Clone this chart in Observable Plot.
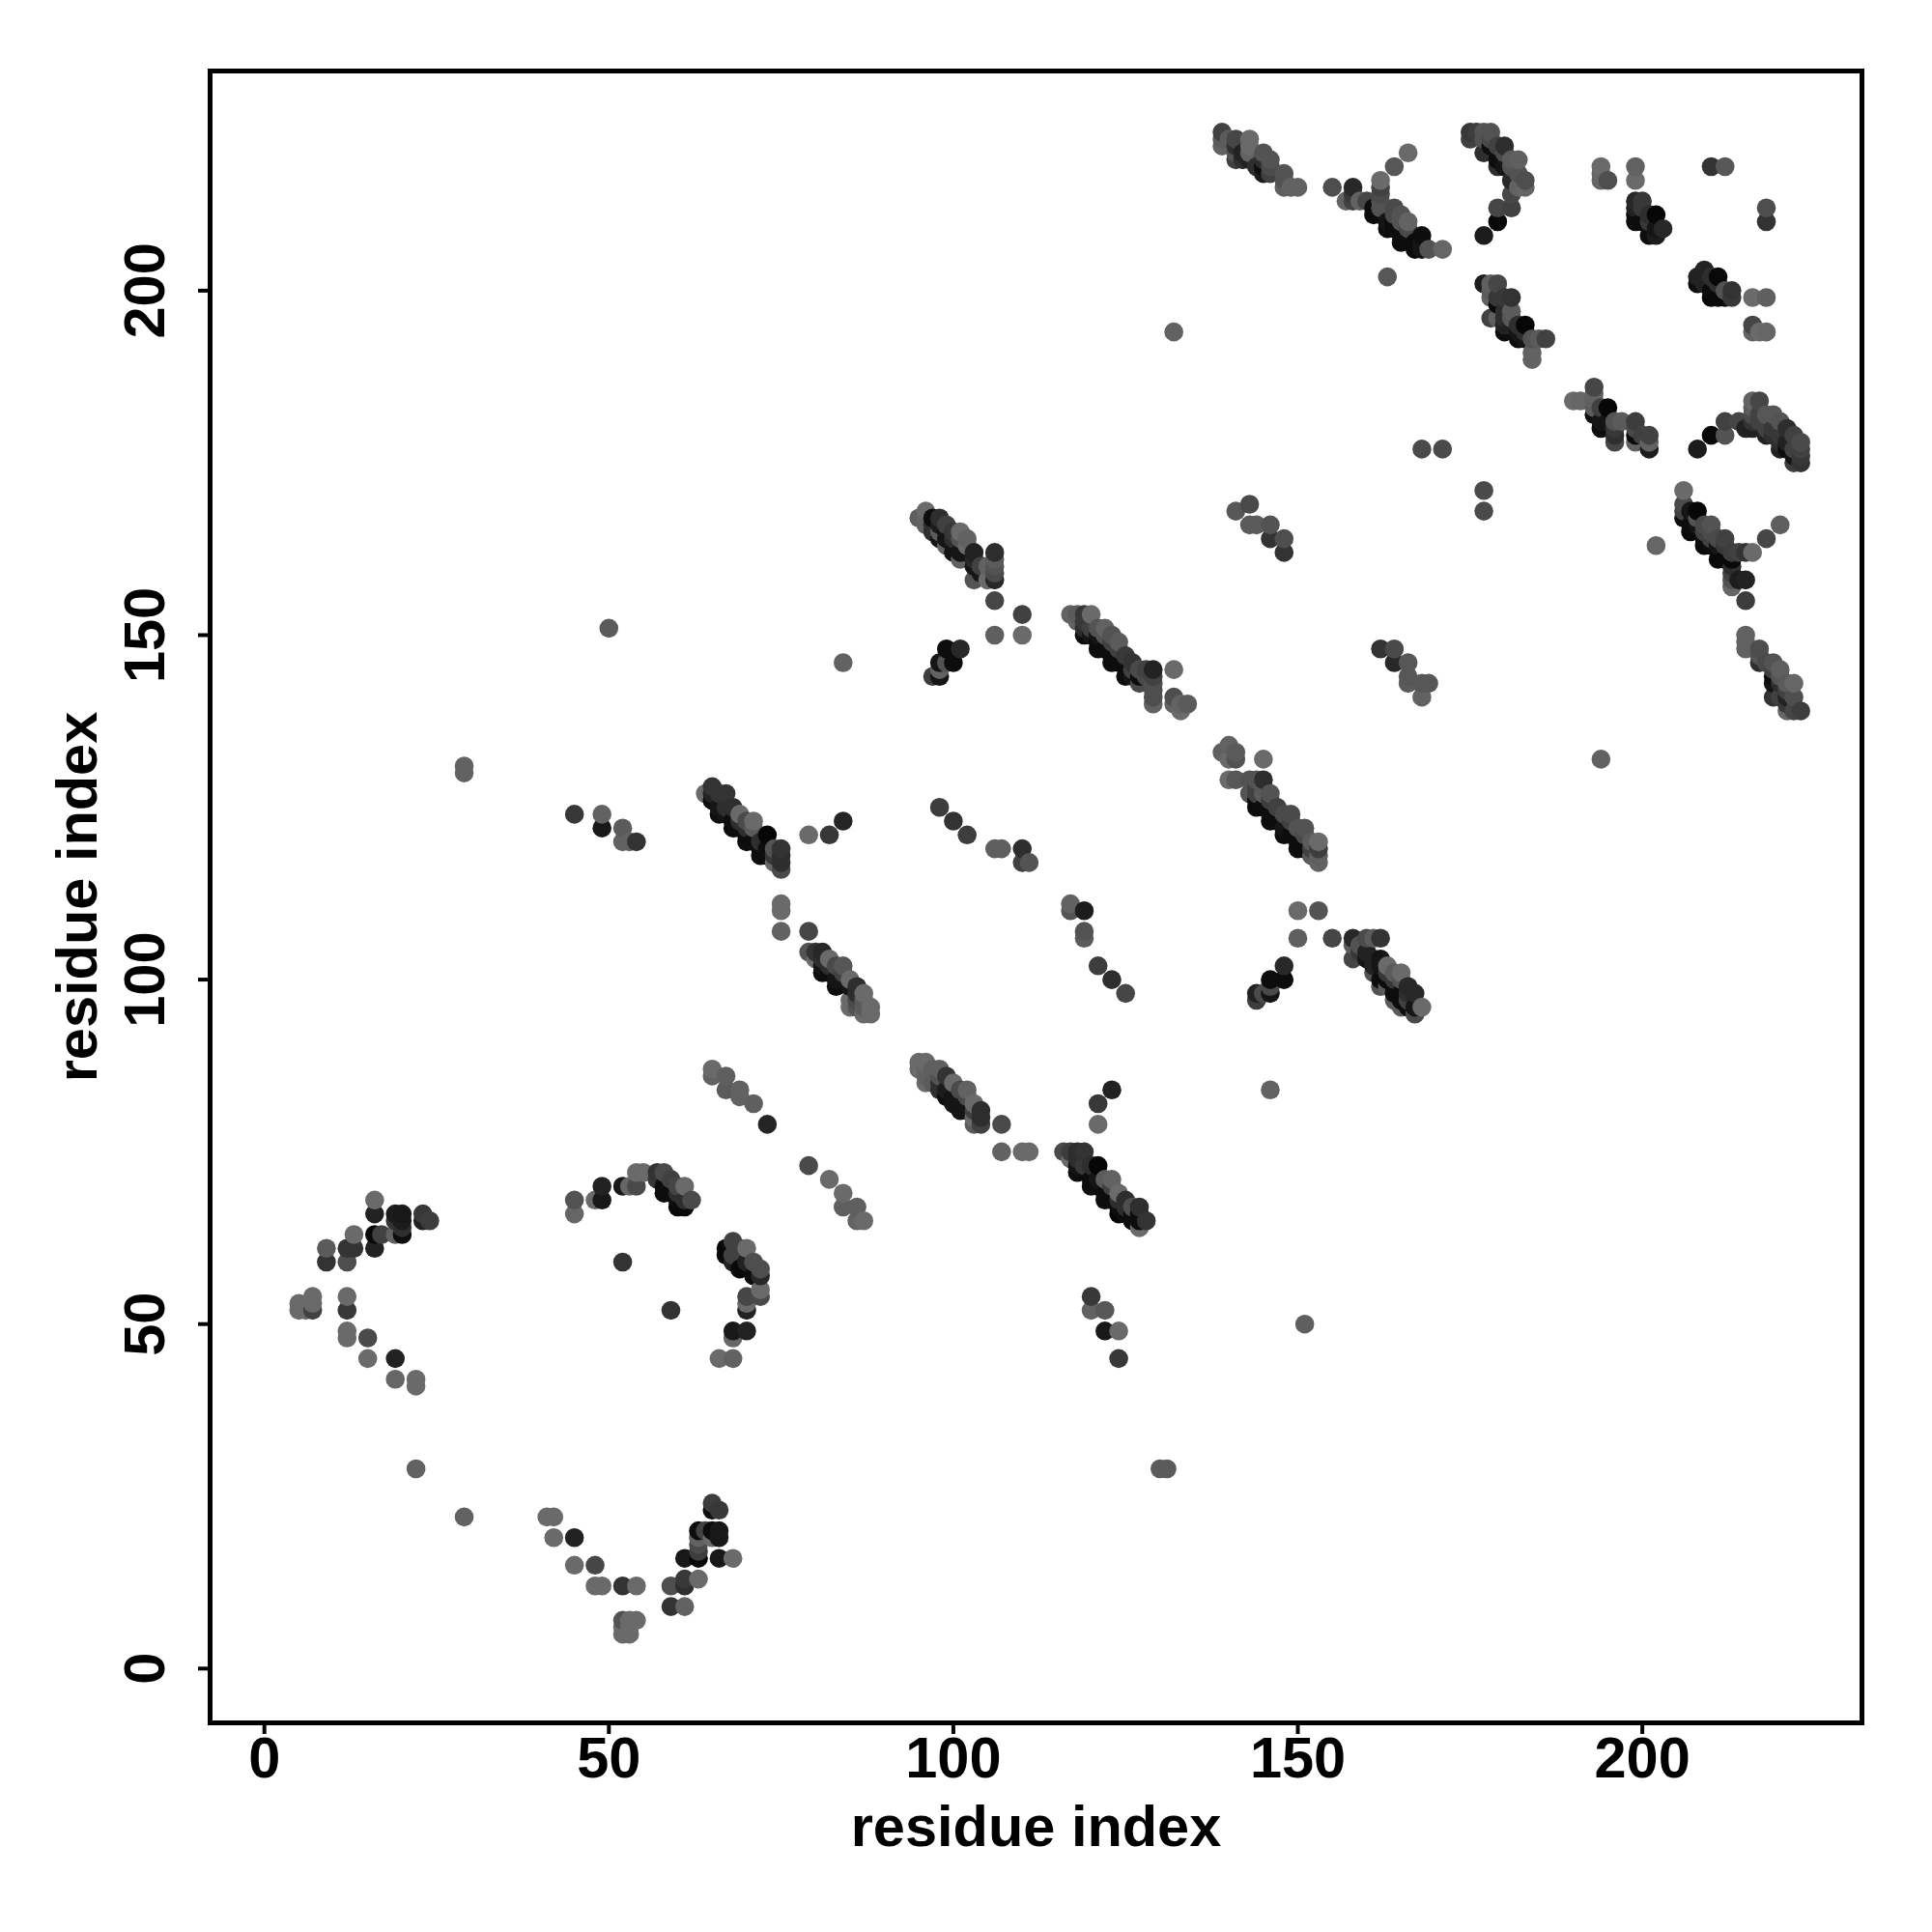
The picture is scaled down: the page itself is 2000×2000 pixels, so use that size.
<!DOCTYPE html>
<html><head><meta charset="utf-8">
<script src="https://cdn.jsdelivr.net/npm/d3@7"></script>
<script src="https://cdn.jsdelivr.net/npm/@observablehq/plot@0.6"></script>
<style>html,body{margin:0;padding:0;background:#fff}svg{display:block}</style>
</head><body><div id="chart"></div>
<script>
// each entry: [residue i, residue j, shade 0 (darkest) .. 1 (lightest)]
const arcLeft = [[16,68,1],[16,66,.2],[19,66,.15],[20,66,.12],[19,65,.35],[20,65,.15],[20,64,.3],[20,63,.05],[19,63,.9],[16,63,.03],[17,63,.5],[13,63,1],[16,61,.2],[12,61,.35],[13,61,.35],[9,61,.8],[9,59,.35],[12,59,.65],[23,66,.4],[24,65,.45],[23,65,.2]];
const arcLeftLow = [[5,53,1],[5,52,1],[6,52,1],[7,54,1],[7,53,1],[7,52,.5],[12,54,1],[12,52,.4],[12,49,1],[12,48,1],[15,48,.6],[15,45,1],[19,45,.2],[19,42,.95],[22,42,1],[22,41,1]];
const arcBottom = [[41,22,1],[42,22,1],[42,19,1],[45,19,.2],[45,15,1],[48,15,.55],[48,12,1],[49,12,1],[52,12,.35],[54,12,1],[59,12,.65],[61,12,.3],[61,13,.4],[63,13,1],[59,9,.35],[61,9,.9],[52,7,.7],[53,7,1],[54,7,1],[52,6,1],[52,5,1],[53,5,1],[53,6,1]];
const arcBottomRight = [[61,16,.12],[63,16,.03],[63,17,.45],[63,18,.6],[63,19,.9],[63,20,.05],[64,20,.5],[65,20,.05],[65,19,1],[66,20,.12],[66,19,.12],[66,16,.12],[68,16,1],[65,24,.45],[65,23,.05],[66,23,.4]];
const arcMid = [[45,68,.7],[45,66,.95],[48,68,1],[49,68,.12],[49,70,.2],[52,70,.12],[53,70,.95],[54,70,.6],[54,72,1],[55,72,1],[57,72,.35],[58,72,.6],[57,71,.4],[58,70,.05],[58,69,.05],[59,71,.5],[59,69,.05],[60,70,.55],[60,69,.3],[60,68,.05],[60,67,.03],[61,70,1],[61,68,.3],[61,67,.03],[62,68,.6]];
const arcMidRight = [[67,61,.03],[67,60,.03],[68,62,.5],[68,60,.5],[68,59,.2],[69,61,.5],[69,58,.03],[70,61,1],[70,59,.2],[71,59,.65],[71,57,.05],[72,58,.65],[72,57,.25],[72,55,1],[72,54,.6],[70,54,.55],[70,53,1],[70,52,.2],[68,49,.12],[70,49,.2],[68,48,.95],[66,45,1],[68,45,.9]];
const diagA = [[64,127,1],[65,128,.35],[65,127,.2],[65,126,.05],[66,127,.35],[66,125,.1],[66,124,.05],[67,127,.35],[67,125,.3],[67,124,.1],[68,125,.3],[68,123,.05],[68,122,.05],[69,124,1],[69,123,.3],[69,122,.05],[70,123,.6],[70,122,.3],[70,121,.05],[70,120,.05],[71,123,1],[71,122,.8],[71,120,.05],[72,120,.3],[72,119,.05],[72,118,.05],[73,121,.02],[73,119,.05],[73,118,.05],[74,119,.7],[74,118,.4],[74,117,1],[75,119,.35],[75,118,.3],[75,117,.3],[75,116,.6]];
const diagB = [[79,104,.7],[80,104,.35],[80,103,1],[81,104,.25],[81,103,.3],[81,102,.1],[81,101,.05],[82,103,1],[82,102,.3],[82,101,.05],[83,102,.6],[83,100,.1],[83,99,.05],[84,102,.75],[84,101,.5],[84,100,.1],[85,100,1],[85,99,.1],[85,97,1],[85,96,1],[86,99,.3],[86,98,.3],[86,97,.6],[86,96,.7],[87,98,1],[87,97,.8],[87,96,.8],[87,95,1],[88,96,1],[88,95,1]];
const strandC = [[65,87,1],[65,86,.9],[67,86,.85],[67,84,.8],[69,84,.9],[69,83,.9],[71,82,.85],[73,79,.22],[79,73,.6],[82,71,1],[84,69,1],[84,67,.85],[86,67,.85],[86,65,.9],[87,65,1]];
const diagD = [[95,88,1],[95,87,1],[96,88,1],[96,87,.9],[96,86,.9],[96,85,1],[97,87,.85],[97,85,.8],[98,87,.85],[98,86,.7],[98,85,.3],[98,84,.3],[99,86,.35],[99,84,.15],[99,83,.05],[100,85,1],[100,83,.1],[100,82,.1],[101,84,.6],[101,82,.1],[101,81,.1],[102,84,.9],[102,83,.6],[102,81,.1],[103,82,1],[103,81,.5],[103,80,1],[103,79,.8],[104,81,.3],[104,80,.3],[104,79,.5]];
const nearD = [[107,79,.6],[107,75,.9],[110,75,1],[111,75,1],[121,82,.4],[123,84,.2],[121,79,1],[120,54,.4],[120,52,.9],[122,52,.75],[122,49,.12],[124,49,1],[124,45,.4]];
const diagE = [[116,75,.6],[117,75,.45],[117,74,1],[118,75,.3],[118,74,.3],[118,73,.1],[118,72,.05],[119,75,.35],[119,73,.4],[120,73,.3],[120,71,.05],[120,70,.05],[121,73,.02],[121,71,.1],[121,70,.05],[122,71,.8],[122,69,.05],[122,68,.05],[123,71,.9],[123,70,.5],[123,68,.05],[124,69,1],[124,68,.3],[124,67,.05],[124,66,.02],[125,68,.3],[125,67,.3],[125,66,.05],[126,67,.65],[126,66,.05],[126,65,.05],[127,67,.3],[127,66,.05],[127,65,.05],[127,64,1],[128,65,.35]];
const diagF = [[95,167,.85],[96,168,1],[96,167,.9],[96,166,.9],[97,167,.05],[97,166,.3],[97,165,.3],[98,167,.3],[98,166,.15],[98,165,.8],[98,164,.1],[99,166,.5],[99,165,.1],[99,164,.1],[99,163,.9],[100,165,.4],[100,164,.3],[100,163,.1],[100,162,.1],[101,165,1],[101,164,.7],[101,162,.1],[101,161,.9],[102,164,.9],[102,163,1],[102,162,.1],[103,162,.2],[103,161,.25],[103,160,.1],[103,158,.7],[104,160,.5],[104,159,.1],[105,160,.9],[105,158,1],[106,162,.3],[106,161,.8],[106,160,.7],[106,159,.6],[106,158,.25]];
const nearF = [[106,155,.55],[110,153,.5],[106,150,.85],[110,150,1],[97,144,.45],[98,146,.1],[98,145,.9],[98,144,.1],[99,148,.05],[99,146,.7],[100,146,.05],[101,148,.25]];
const diagG = [[117,153,.9],[118,153,.8],[118,152,.9],[119,153,.4],[119,152,.4],[119,151,.3],[119,150,.05],[120,153,1],[120,151,.5],[120,150,.1],[121,151,.7],[121,150,.1],[121,149,.05],[121,148,.05],[122,151,.9],[122,150,.7],[122,148,.05],[123,150,.7],[123,149,.5],[123,147,.05],[123,146,.05],[124,149,.8],[124,148,.5],[124,146,.05],[125,147,.4],[125,146,.05],[125,144,.05],[126,146,.35],[126,145,.5],[126,144,.1],[127,145,.6],[127,144,.05],[127,143,.6],[128,145,.5],[128,144,.6],[129,145,.2],[129,144,.5],[129,143,.65],[129,142,.65],[129,141,.65],[129,140,.9],[132,145,1],[132,141,.65],[132,140,.9],[133,140,.9],[133,139,1],[134,140,.8]];
const sparseA = [[45,124,.4],[49,124,.9],[49,122,.12],[52,122,.8],[52,120,.9],[53,120,.9],[54,120,.35],[79,121,1],[82,121,.4],[84,123,.22],[75,111,1],[75,110,1],[75,107,.9],[79,107,.55],[98,125,.45],[100,123,.35],[102,121,.45],[106,119,.85],[107,119,.85],[110,119,.3],[110,117,.5],[111,117,.7],[117,111,.9],[117,110,.7],[119,110,.15],[119,107,.7],[119,106,.8],[121,102,.45],[123,100,.3],[125,98,.55]];
const isolated = [[22,29,.9],[29,22,.9],[29,131,.9],[29,130,.9],[50,151,.8],[84,146,.9],[130,29,.8],[131,29,.8],[132,194,.9],[146,84,.9],[151,50,.85],[194,132,.9],[59,52,.35],[52,59,.35],[163,202,.75],[202,163,.95],[168,177,.6],[171,177,.6],[177,171,.6],[177,168,.6]];
const diagH = [[139,133,.85],[140,134,.9],[140,132,1],[140,129,1],[141,133,.8],[141,132,.7],[141,129,.75],[143,129,.7],[143,127,.7],[144,129,.7],[144,128,.5],[144,127,.5],[144,126,.05],[144,125,.05],[145,132,1],[145,129,.3],[145,128,.75],[145,127,.8],[145,125,.05],[146,127,.7],[146,126,.45],[146,124,.05],[146,123,.05],[147,125,.5],[147,123,.05],[148,124,.6],[148,122,.1],[148,121,.05],[149,124,.6],[149,123,.5],[149,121,.05],[150,122,.7],[150,120,.05],[150,119,.05],[151,122,.7],[151,121,.6],[151,119,.05],[152,120,.8],[152,119,.5],[152,118,.8],[153,120,1],[153,119,.45],[153,118,.85],[153,117,.9]];
const nearH = [[144,98,.2],[144,97,.45],[145,98,.6],[146,100,.05],[146,99,.6],[146,98,.1],[148,102,.25],[148,100,.05],[150,110,1],[153,110,.7],[150,106,.85],[155,106,.55],[162,148,.35],[164,148,.6],[164,146,.25],[166,146,.75],[166,144,.75],[166,143,.8],[168,143,.75],[169,143,.75],[168,141,.9],[141,168,.75],[143,169,.6],[143,166,.8],[144,166,.8],[146,166,.7],[146,164,.35],[148,164,.65],[148,162,.35]];
const diagI = [[158,106,.25],[158,105,.8],[158,103,.55],[159,105,.7],[159,104,.4],[160,106,.6],[160,104,.2],[160,103,.1],[161,106,.8],[161,103,.2],[161,102,.2],[161,101,.7],[162,106,.35],[162,103,.1],[162,102,.1],[162,100,.05],[162,99,.7],[163,102,1],[163,101,.4],[163,100,.05],[163,99,.8],[164,101,.8],[164,100,.4],[164,99,.05],[164,98,.05],[164,97,.8],[165,101,1],[165,100,.7],[165,98,.05],[165,97,.05],[165,96,.8],[166,99,.25],[166,98,.3],[166,97,.5],[166,96,.05],[167,98,.25],[167,96,.1],[167,95,.6],[168,96,1]];
const topA = [[139,223,.5],[139,222,.8],[139,221,.9],[140,222,.8],[141,222,.55],[141,221,.3],[141,220,.7],[141,219,.5],[142,220,.2],[142,219,.3],[143,222,1],[143,221,1],[143,220,.9],[143,219,.2],[144,218,.3],[145,220,.7],[145,219,.3],[145,218,.05],[145,217,.15],[146,219,.7],[146,218,.6],[146,217,.5],[148,217,.7],[148,216,.7],[148,215,.85],[149,215,.9],[150,215,.9]];
const topB = [[155,215,.65],[157,213,.9],[158,215,.25],[158,214,.4],[158,213,.5],[159,213,.9],[160,213,.55],[161,212,.05],[161,211,.05],[162,216,1],[162,215,.5],[162,214,.6],[162,213,.7],[162,212,.7],[162,211,.05],[163,210,.1],[163,209,.05],[164,218,.75],[164,212,.6],[164,211,.6],[164,210,.05],[164,209,.05],[165,211,.7],[165,210,.7],[165,208,.05],[165,207,.05],[166,220,1],[166,210,.9],[166,209,.6],[167,207,.05],[167,206,.05],[168,208,.05],[168,207,.1],[168,206,.1],[169,206,.7],[171,206,.95]];
const topC = [[175,223,.4],[175,222,.5],[176,223,.45],[177,223,.7],[177,222,.7],[177,220,.3],[178,223,.7],[178,222,.6],[178,221,.05],[179,221,.5],[179,219,.05],[179,218,.3],[180,221,.3],[180,220,.6],[180,218,.1],[181,219,.8],[181,218,.7],[181,216,.25],[181,214,.55],[181,212,.5],[179,212,.55],[179,210,.03],[177,208,.15],[182,219,.85],[182,217,.7],[182,215,.9],[183,216,.65],[183,215,.95]];
const topD = [[194,218,1],[194,217,.95],[194,216,.95],[195,216,.65],[199,218,.9],[199,216,1],[199,213,.25],[199,212,.2],[199,211,.05],[199,210,.05],[200,213,.4],[200,212,.4],[200,210,.05],[201,211,.3],[201,210,.4],[201,208,.05],[202,211,.02],[202,209,.1],[202,208,.15],[203,209,.25],[210,218,.35],[212,218,.75],[218,212,.65],[218,210,.35]];
const topE = [[208,202,.2],[208,201,.05],[209,203,.2],[209,201,.2],[210,202,.3],[210,200,.05],[210,199,.03],[211,202,.03],[211,201,.3],[211,199,.03],[212,200,.7],[212,199,.03],[213,200,.35],[213,199,.4],[216,199,1],[218,199,.85],[216,195,.55],[216,194,.9],[217,194,1],[218,194,.95]];
const topF = [[177,201,.15],[178,201,.85],[178,200,.8],[178,199,.9],[178,196,.5],[179,201,.55],[179,199,.4],[179,198,.03],[179,196,.85],[180,199,.4],[180,197,.3],[180,196,.3],[180,195,.2],[180,194,.05],[181,199,.35],[181,197,.8],[181,196,.75],[181,195,.2],[182,195,.3],[182,194,.1],[182,193,.05],[183,195,.02],[183,194,.3],[183,193,.1],[184,193,.7],[184,191,.9],[184,190,.9],[185,193,.8],[186,193,.5]];
const rightA = [[190,184,1],[191,184,.95],[193,186,.55],[193,185,.9],[193,184,.85],[193,183,.8],[193,182,.05],[194,183,.5],[194,181,.1],[194,180,.05],[195,183,.02],[195,181,.1],[196,181,.7],[196,180,.4],[196,179,.3],[196,178,.55],[197,181,.8],[199,181,.45],[199,180,.6],[199,179,.05],[199,178,.9],[200,179,.5],[201,179,.5],[201,178,.9],[201,177,.15]];
const rightB = [[208,177,.15],[210,179,.03],[212,181,.5],[212,179,.7],[214,181,.55],[215,180,.2],[216,184,.9],[216,183,.8],[216,182,.6],[216,181,.35],[216,180,.2],[217,184,.55],[217,182,.5],[217,181,.5],[218,182,.75],[218,181,.5],[218,180,.5],[218,179,.2],[219,182,.75],[219,180,.4],[219,179,.3],[220,181,.7],[220,179,.4],[220,178,.3],[220,177,.2],[221,180,.3],[221,178,.2],[221,177,.05],[222,179,.5],[222,177,.5],[222,176,.1],[222,175,.45],[223,178,.6],[223,177,.5],[223,176,.4],[223,175,.35]];
const rightC = [[206,171,1],[206,169,.6],[206,168,.5],[206,167,.05],[207,168,.1],[207,166,.05],[207,165,.03],[208,168,.02],[208,167,.7],[208,166,.1],[209,166,.6],[209,165,.5],[209,164,.05],[209,163,.03],[210,166,.7],[210,165,.6],[210,164,.5],[210,163,.05],[211,164,.6],[211,163,.1],[211,161,.03],[212,164,.5],[212,163,.4],[212,161,.03],[213,162,.45],[213,161,.03],[213,160,.3],[213,159,.5],[213,158,.7],[213,157,.95],[214,162,.5],[214,158,.15],[215,162,.35],[215,158,.2],[215,155,.45],[216,162,1],[218,164,.55],[220,166,.85]];
const rightD = [[215,150,.9],[215,149,.9],[215,148,.9],[217,148,.65],[217,147,.7],[217,146,.3],[218,146,.6],[219,146,.7],[219,145,.5],[219,144,.05],[219,143,.1],[219,141,.35],[220,145,.85],[220,144,.7],[220,143,.3],[220,141,.5],[221,143,.8],[221,142,.5],[221,141,.2],[221,140,.4],[221,139,.95],[222,143,.95],[222,141,.65],[222,139,.55],[223,139,.45]];

const xTicks = [0, 50, 100, 150, 200];
const yTicks = [0, 50, 100, 150, 200];
const axisTitle = "residue index";

const contacts = [arcLeft, arcLeftLow, arcBottom, arcBottomRight, arcMid, arcMidRight, diagA, diagB, strandC, diagD, nearD, diagE, diagF, nearF, diagG, sparseA, isolated, diagH, nearH, diagI, topA, topB, topC, topD, topE, topF, rightA, rightB, rightC, rightD]
  .flat()
  .map(([i, j, shade]) => ({i, j, shade}))
  .sort((a, b) => a.i - b.i || a.j - b.j);

const font = {fontFamily: "Liberation Sans", fontWeight: "bold", fontSize: 59.5};

const chart = Plot.plot({
  width: 2000, height: 2000,
  marginLeft: 217, marginRight: 73, marginTop: 73, marginBottom: 217,
  style: {background: "white", color: "black", fontFamily: "Liberation Sans", fontWeight: "bold", fontSize: "59.5px"},
  x: {domain: [-7.88, 231.88]},
  y: {domain: [-7.88, 231.88]},
  color: {type: "pow", exponent: 0.7, domain: [0, 1], range: ["#000000", "#6a6a6a"]},
  marks: [
    Plot.dot(contacts, {x: "i", y: "j", r: 9.8, fill: "shade", stroke: "none"}),
    Plot.frame({stroke: "black", strokeWidth: 5}),
    Plot.axisX({ticks: xTicks, tickSize: 12, tickPadding: 2, strokeWidth: 4, label: axisTitle, labelAnchor: "center", labelArrow: "none", labelOffset: 127, ...font}),
    Plot.axisY({ticks: yTicks, tickSize: 12, tickPadding: 36, strokeWidth: 4, tickRotate: -90, textAnchor: "middle", label: axisTitle, labelAnchor: "center", labelArrow: "none", labelOffset: 160, ...font})
  ]
});
document.getElementById("chart").append(chart);
</script></body></html>
